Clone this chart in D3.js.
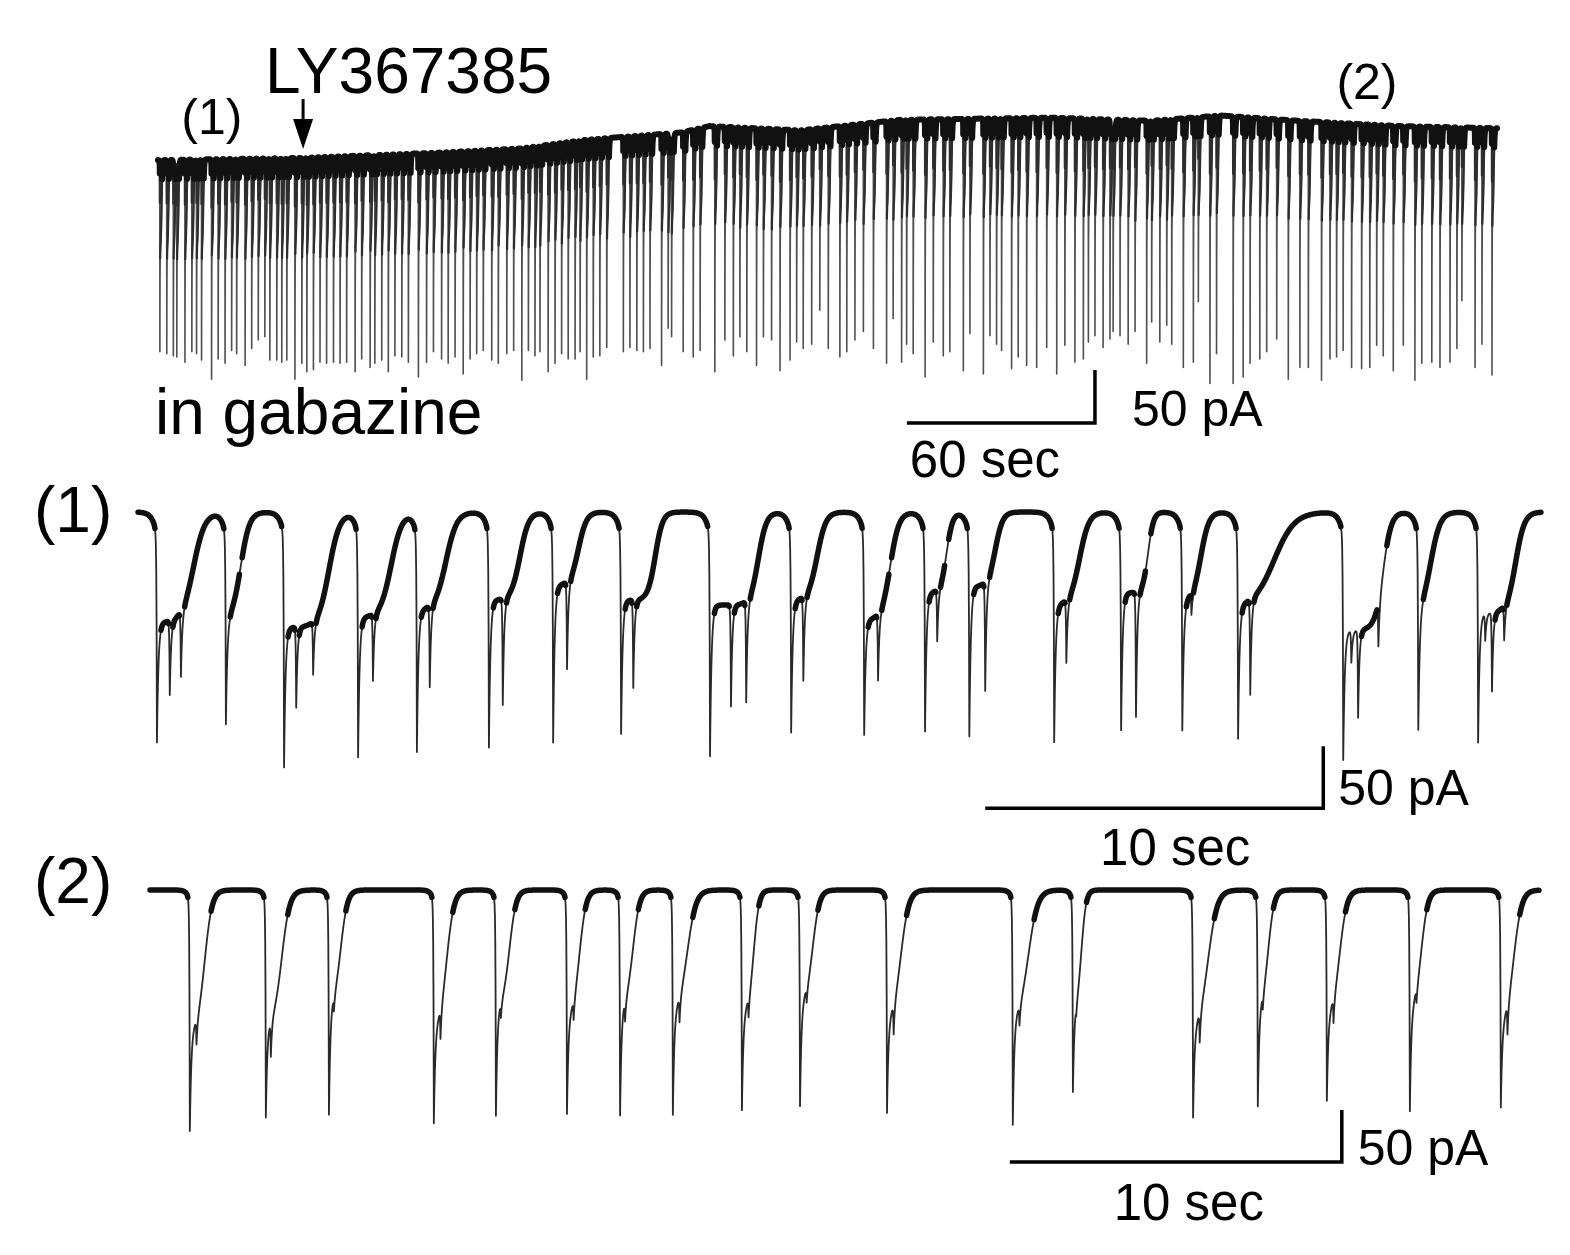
<!DOCTYPE html>
<html><head><meta charset="utf-8">
<script src="https://cdn.jsdelivr.net/npm/d3@7"></script>
<style>
body{margin:0;background:#fff}
svg text{font-family:"Liberation Sans",Arial,Helvetica,sans-serif;fill:#000}
</style>
</head><body>
<svg id="c" width="1570" height="1255"></svg>
<script>
// ================= DATA =================
// Overview recording (in gabazine, LY367385 applied): event times (s) and peak currents (pA)
const overviewTimes = [0.6,2.8,4.9,6.0,8.6,10.8,12.3,13.9,17.1,19.2,21.4,23.5,25.1,27.8,29.9,32.0,34.1,35.7,37.9,39.5,41.1,43.7,45.9,47.5,49.6,51.7,53.8,56.0,58.1,60.2,62.9,65.0,67.7,69.2,71.4,73.5,75.6,77.8,79.9,83.1,85.7,87.9,90.5,92.6,94.8,97.4,99.6,101.7,103.8,106.5,108.6,111.3,113.5,116.1,118.2,120.3,121.9,124.5,126.7,128.8,130.9,133.1,134.7,136.8,138.9,141.0,143.2,
148.5,150.6,152.8,154.9,157.0,160.7,162.8,163.9,167.6,170.8,173.0,177.7,180.9,183.6,185.7,187.9,191.0,193.2,195.8,198.5,201.7,203.8,205.9,208.6,211.2,213.9,217.6,219.8,222.4,225.1,228.3,232.5,234.6,237.3,238.9,241.0,244.8,247.4,250.6,252.7,257.0,259.1,263.4,265.5,267.6,269.2,272.4,274.5,277.2,280.4,283.6,286.8,289.4,
292.6,295.3,296.9,299.0,301.6,303.8,304.8,307.0,309.6,311.8,315.5,317.1,319.7,321.9,323.5,327.2,330.4,332.0,335.7,337.8,343.1,346.3,348.5,351.6,353.8,357.0,360.7,364.4,367.1,371.3,374.0,376.1,378.2,380.9,384.1,386.7,388.9,391.0,394.2,397.4,401.1,403.3,406.5,409.1,412.3,414.5,416.1,420.3,422.5,425.7];
const overviewPeaks = [-182,-184,-186,-187,-192,-182,-184,-190,-208,-189,-193,-181,-184,-195,-179,-171,-168,-190,-190,-192,-190,-208,-193,-201,-199,-192,-193,-192,-193,-192,-201,-189,-197,-193,-190,-201,-186,-187,-192,-206,-192,-182,-189,-193,-187,-203,-189,-184,-181,-190,-193,-184,-181,-209,-181,-186,-182,-201,-193,-184,-189,-189,-182,-208,-187,-186,-178,
-182,-178,-181,-182,-179,-195,-160,-168,-182,-187,-181,-201,-171,-186,-168,-182,-195,-168,-171,-200,-190,-173,-179,-175,-143,-179,-187,-182,-171,-163,-179,-193,-151,-192,-175,-184,-206,-173,-186,-182,-200,-165,-203,-167,-175,-181,-198,-187,-195,-197,-178,-203,-176,
-192,-189,-173,-167,-178,-170,-163,-167,-175,-163,-193,-154,-173,-157,-175,-197,-192,-135,-212,-184,-212,-206,-193,-189,-182,-170,-208,-197,-197,-209,-189,-187,-181,-197,-198,-197,-176,-186,-200,-176,-209,-193,-192,-197,-192,-179,-134,-197,-175,-204];
// Holding-current drift of the overview recording (s, pA)
const overviewBaseT = [0,45,90,116,136,167,176,205,237,285,317,339,364,396,427];
const overviewBaseI = [0,2,7,11,19,26,32,28,38,40,37,42,37,32,30];
const overviewDuration = 427.3;
const drugOnset = 46.3;               // LY367385 application (s)
const segmentMarks = ["(1)", "(2)"];
const segmentTimes = [17.2, 385.8];

// Expanded segment (1): event time (s), depth (pA), plateau (pA), half-recovery (s), recovery width (s)
const p1Times   = [0.56,2.60,4.32,6.51,8.25,10.38,12.28,14.29,16.92,19.32,21.48,23.28,24.59,27.10,29.08,30.89,32.54,35.65,37.87,39.64];
const p1Depth   = [186,174,206,198,194,190,186,179,197,178,180,177,181,186,176,177,185,200,181,186];
const p1Plateau = [89,87,93,85,79,71,59,71,75,71,87,65,60,75,65,71,77,95,81,81];
const p1HalfRec = [1.08,0.44,1.33,0.98,0.86,0.92,0.75,1.01,1.43,0.77,0.77,0.64,0.77,0.75,0.80,0.55,1.07,1.18,0.37,1.11];
const p1RecWidth= [0.17,0.13,0.16,0.16,0.16,0.13,0.12,0.11,0.12,0.13,0.13,0.09,0.11,0.14,0.08,0.12,0.30,0.12,0.14,0.13];
// secondary events: [delay after main event (s), extra amplitude (pA)]
const p1Secondary = [
  [[0.38,60],[0.71,53]], [], [[0.36,65],[0.86,43]], [[0.44,54]], [[0.38,66]],
  [[0.41,86]], [[0.41,71]], [[0.36,71]], [[0.62,82],[1.07,82]], [[0.36,68]],
  [[0.41,54]], [[0.36,42]], [[0.47,88]], [[0.36,51]], [[0.44,101]],
  [[0.27,18]], [[0.36,77]], [[0.24,26],[0.44,71],[1.04,36]], [], [[0.21,22],[0.41,64],[0.77,28]]
];
const p1Duration = 41.5;

// Expanded segment (2)
const p2Times   = [1.20,3.49,5.39,8.55,10.42,12.56,14.16,15.75,17.83,19.58,22.20,25.99,27.80,31.42,33.37,35.45,37.95,40.69];
const p2Depth   = [234,221,219,228,219,218,219,220,213,210,218,230,197,224,211,206,216,214];
const p2Plateau = [135,130,110,132,112,121,112,117,115,106,125,125,113,135,111,120,113,130];
const p2HalfRec = [0.45,0.48,0.36,0.39,0.41,0.38,0.39,0.44,0.36,0.39,0.42,0.47,0.26,0.45,0.32,0.39,0.35,0.39];
const p2RecWidth= [0.11,0.12,0.10,0.11,0.10,0.10,0.10,0.13,0.08,0.10,0.12,0.14,0.07,0.14,0.09,0.11,0.10,0.12];
const p2Secondary = [[[0.2,25]],[[0.15,35]],[[0.15,15]],[[0.2,30]],[[0.15,15]],[[0.2,20]],[[0.15,20]],[[0.2,25]],[[0.2,20]],[[0.2,15]],[[0.2,30]],[[0.2,20]],[[0.1,10]],[[0.2,30]],[[0.15,15]],[[0.2,25]],[[0.2,15]],[[0.2,30]]];
const p2Duration = 41.84;

// scale bars
const overviewBar = {sec: 60, pA: 50, tEnd: 299.0, I: -248};
const p1Bar = {sec: 10, pA: 50, tEnd: 35.06, I: -239};
const p2Bar = {sec: 10, pA: 50, tEnd: 35.9, I: -261.5};

// ================= MODEL =================
function evCurrent(e, t) {
  const dt = t - e.t0;
  if (dt < -1.5 || dt > e.D + 14*e.k + 0.6) return 0;
  let I;
  if (dt < 0) I = -e.P*Math.exp(dt/e.tp) - (e.Aeff - e.P)*Math.exp(dt/0.012);
  else I = -(e.Aeff - e.L)*Math.exp(-dt/0.045) - e.L/(1 + Math.exp((dt - e.D)/e.k));
  for (const s of e.sec) {
    const d2 = dt - s[0];
    I += d2 < 0 ? -s[1]*Math.exp(d2/0.012) : -s[1]*Math.exp(-d2/0.04);
  }
  return I;
}
function buildTrace(duration, step, events, baseFn) {
  events.sort((a,b)=>a.t0-b.t0);
  events.forEach((e,j) => {
    let prior = 0;
    for (let i=0;i<j;i++) prior -= evCurrent(events[i], e.t0);
    e.Aeff = Math.max(e.depth - prior, e.L + 10);
  });
  const times = d3.range(0, duration + step/2, step);
  events.forEach(e => { times.push(e.t0); e.sec.forEach(s => times.push(e.t0 + s[0])); });
  times.sort((a,b)=>a-b);
  return times.map(t => {
    let I = baseFn(t);
    for (const e of events) I += evCurrent(e, t);
    return {t, I, rel: I - baseFn(t)};
  });
}

const svg = d3.select("#c");

// keep only runs of "flat" segments that are long enough (avoids blobs at spike tips)
function runMask(flags, px, minRun) {
  const out = flags.slice();
  let i = 0;
  while (i < flags.length) {
    if (!flags[i]) { i++; continue; }
    let j = i;
    while (j < flags.length && flags[j]) j++;
    const len = px[Math.min(j, px.length-1)][0] - px[i][0];
    if (len < minRun) for (let k=i;k<j;k++) out[k] = false;
    i = j;
  }
  return out;
}
function addLayer(g, data, x, y, segFlags, color, width) {
  const defined = data.map((d,i) => segFlags[i] || (i>0 && segFlags[i-1]));
  const ln = d3.line().defined((d,i)=>defined[i]).x(d=>x(d.t)).y(d=>y(d.I));
  g.append("path").attr("d", ln(data)).attr("fill","none")
    .attr("stroke", color).attr("stroke-width", width)
    .attr("stroke-linejoin","round").attr("stroke-linecap","round");
}
function drawTrace(data, x, y, opt) {
  const g = svg.append("g");
  const line = d3.line().x(d=>x(d.t)).y(d=>y(d.I));
  g.append("path").attr("d", line(data)).attr("fill","none")
    .attr("stroke", opt.thin).attr("stroke-width", opt.thinW).attr("stroke-linejoin","round");
  const px = data.map(d => [x(d.t), y(d.I)]);
  const last = px.length - 1;
  if (opt.mode === "rel") {
    const mid = data.map((d,i) => i < last && d.rel > opt.midThr && data[i+1].rel > opt.midThr);
    addLayer(g, data, x, y, mid, opt.midColor, opt.midW);
    const top = data.map((d,i) => i < last && d.rel > opt.relThr && data[i+1].rel > opt.relThr);
    addLayer(g, data, x, y, top, "#111", opt.thickW);
  } else {
    const flat = px.map((p,i) => {
      if (i === last) return false;
      const dx = Math.max(px[i+1][0]-p[0], 1e-6);
      return Math.abs(px[i+1][1]-p[1])/dx < opt.slopeThr;
    });
    addLayer(g, data, x, y, runMask(flat, px, opt.minRun), "#111", opt.thickW);
  }
}

function scaleBar(x, y, bar, labelOpt) {
  const x0 = x(bar.tEnd - bar.sec), x1 = x(bar.tEnd), y0 = y(bar.I), y1 = y(bar.I + bar.pA);
  svg.append("path").attr("d", `M${x0},${y0}H${x1}V${y1}`).attr("fill","none")
    .attr("stroke","#000").attr("stroke-width",3.5).attr("stroke-linecap","butt").attr("stroke-linejoin","miter");
  svg.append("text").attr("x", x1 + labelOpt.pAdx).attr("y", y0 + labelOpt.pAdy)
    .attr("font-size", 50).text(`${bar.pA} pA`);
  svg.append("text").attr("x", (x0+x1)/2 + labelOpt.sdx).attr("y", y0 + labelOpt.sdy)
    .attr("text-anchor","middle").attr("font-size", 51).text(`${bar.sec} sec`);
}

// ---------- overview ----------
const xO = d3.scaleLinear().domain([0, overviewDuration]).range([158, 1497]);
const yO = d3.scaleLinear().domain([-250, 0]).range([425, 160]);
const baseO = d3.scaleLinear().domain(overviewBaseT).range(overviewBaseI).clamp(true);
const oEvents = overviewTimes.map((t,i) => ({
  t0: t, depth: baseO(t) - overviewPeaks[i], L: 85, D: 0.55, k: 0.13, P: 10, tp: 0.1, sec: []
}));
const oData = buildTrace(overviewDuration, 0.02, oEvents, t => baseO(t));
drawTrace(oData, xO, yO, {thin:"#505050", thinW:1.6, thickW:6, mode:"rel", relThr:-20,
  midThr:-95, midColor:"#2e2e2e", midW:2.2});

// ---------- panel 1 ----------
const x1s = d3.scaleLinear().domain([0, p1Duration]).range([138, 1541]);
const y1s = d3.scaleLinear().domain([-250, 0]).range([512 + 310, 512]);
const e1 = p1Times.map((t,i) => ({t0:t, depth:p1Depth[i], L:p1Plateau[i], D:p1HalfRec[i], k:p1RecWidth[i], P:20, tp:0.12, sec:p1Secondary[i]}));
const d1 = buildTrace(p1Duration, 0.01, e1, () => 0);
drawTrace(d1, x1s, y1s, {thin:"#2a2a2a", thinW:1.8, thickW:5.5, mode:"slope", slopeThr:6, minRun:4});

// ---------- panel 2 ----------
const x2s = d3.scaleLinear().domain([0, p2Duration]).range([150, 1539]);
const y2s = d3.scaleLinear().domain([-270, 0]).range([890 + 270*1.04, 890]);
const e2 = p2Times.map((t,i) => ({t0:t, depth:p2Depth[i], L:p2Plateau[i], D:p2HalfRec[i], k:p2RecWidth[i], P:12, tp:0.08, sec:p2Secondary[i]}));
const d2 = buildTrace(p2Duration, 0.01, e2, () => 0);
drawTrace(d2, x2s, y2s, {thin:"#2a2a2a", thinW:1.8, thickW:5.5, mode:"slope", slopeThr:5, minRun:4});

// ---------- scale bars ----------
scaleBar(xO, yO, overviewBar, {pAdx:37, pAdy:3, sdx:-16, sdy:54});
scaleBar(x1s, y1s, p1Bar, {pAdx:15, pAdy:-3, sdx:21, sdy:57});
scaleBar(x2s, y2s, p2Bar, {pAdx:16, pAdy:3, sdx:13, sdy:58});

// ---------- annotations ----------
svg.append("text").attr("x", 265).attr("y", 93).attr("font-size", 64).text("LY367385");
const ax = xO(drugOnset);
svg.append("line").attr("x1",ax).attr("x2",ax).attr("y1",99).attr("y2",126).attr("stroke","#000").attr("stroke-width",3);
svg.append("path").attr("d",`M${ax-10},${119}L${ax+10},${119}L${ax},${149}Z`).attr("fill","#000");
segmentMarks.forEach((m,i) => {
  svg.append("text").attr("x", xO(segmentTimes[i])).attr("y", i===0 ? 134 : 99)
    .attr("text-anchor","middle").attr("font-size", 50).text(m);
});
svg.append("text").attr("x", 155).attr("y", 434).attr("font-size", 64).text("in gabazine");
svg.append("text").attr("x", 34).attr("y", 532).attr("font-size", 64).text(segmentMarks[0]);
svg.append("text").attr("x", 34).attr("y", 903).attr("font-size", 64).text(segmentMarks[1]);
</script>
</body></html>
